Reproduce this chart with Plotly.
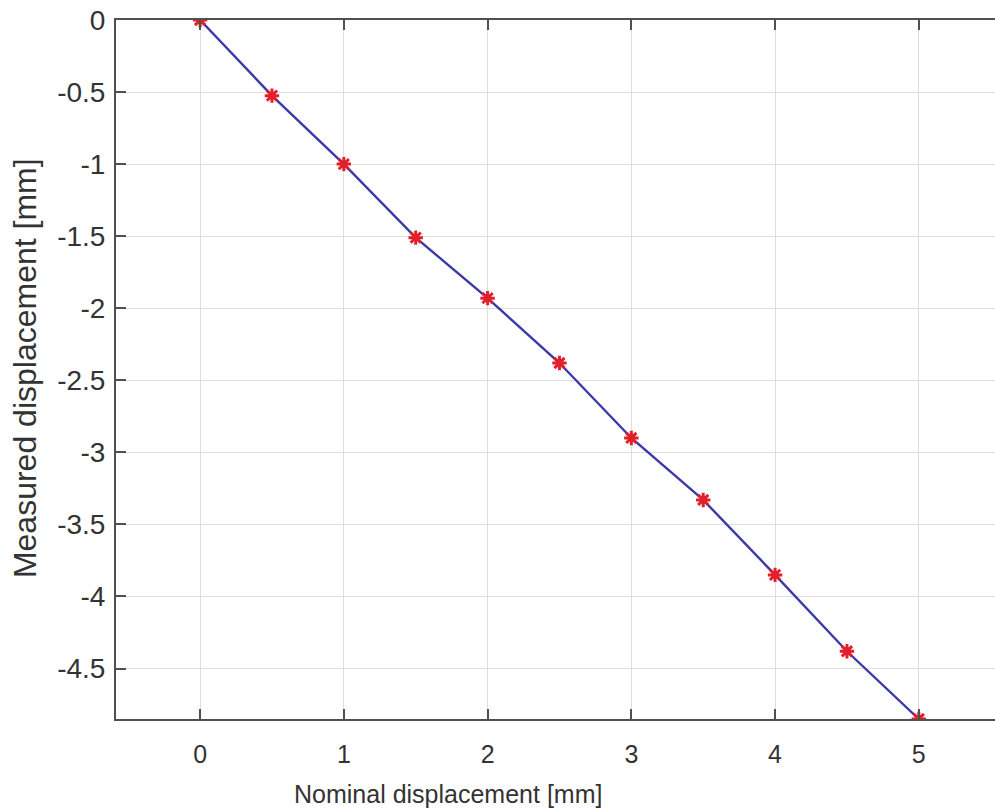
import plotly.graph_objects as go

nominal = [0, 0.5, 1, 1.5, 2, 2.5, 3, 3.5, 4, 4.5, 5]
measured = [0, -0.525, -1.0, -1.51, -1.93, -2.38, -2.90, -3.33, -3.85, -4.38, -4.85]

x_ticks = [0, 1, 2, 3, 4, 5]
x_tick_text = ["0", "1", "2", "3", "4", "5"]
y_ticks = [0, -0.5, -1, -1.5, -2, -2.5, -3, -3.5, -4, -4.5]
y_tick_text = ["0", "-0.5", "-1", "-1.5", "-2", "-2.5", "-3", "-3.5", "-4", "-4.5"]

x_title = "Nominal displacement [mm]"
y_title = "Measured displacement [mm]"

font_family = "Liberation Sans, Arial, sans-serif"
txt = "#333333"
axis_col = "#505050"

fig = go.Figure()
fig.add_trace(go.Scatter(
    x=nominal, y=measured, mode="lines",
    line=dict(color="#3a3aaa", width=2.4),
    showlegend=False, hoverinfo="skip"))
fig.add_trace(go.Scatter(
    x=nominal, y=measured, mode="markers",
    marker=dict(symbol="asterisk-open", size=12, color="#e0202a",
                line=dict(color="#e0202a", width=3)),
    showlegend=False))

fig.update_layout(
    width=995, height=812,
    margin=dict(l=116, r=0, t=20, b=93),
    paper_bgcolor="white", plot_bgcolor="white",
    font=dict(family=font_family, size=25, color=txt),
    xaxis=dict(
        range=[-0.585, 5.53], tickvals=x_ticks, ticktext=x_tick_text,
        showgrid=True, gridcolor="#dedede", gridwidth=1,
        zeroline=False, showline=True, linecolor=axis_col, linewidth=2,
        mirror="ticks", ticks="inside", ticklen=10, tickwidth=2, tickcolor=axis_col,
        ticklabelstandoff=12, ticklabeloverflow="allow",
        tickfont=dict(size=25, color=txt),
    ),
    yaxis=dict(
        range=[-4.85, 0], tickvals=y_ticks, ticktext=y_tick_text,
        showgrid=True, gridcolor="#dedede", gridwidth=1,
        zeroline=False, showline=True, linecolor=axis_col, linewidth=2,
        mirror=False, ticks="inside", ticklen=10, tickwidth=2, tickcolor=axis_col,
        ticklabelstandoff=3, ticklabeloverflow="allow",
        tickfont=dict(size=28, color=txt),
    ),
    annotations=[
        dict(text=x_title, xref="paper", yref="paper", x=0.3777, y=0,
             xanchor="center", yanchor="middle", yshift=-75, showarrow=False,
             font=dict(size=25, color=txt)),
        dict(text=y_title, xref="paper", yref="paper", x=0, y=0.502,
             xanchor="center", yanchor="middle", xshift=-91, textangle=-90,
             showarrow=False, font=dict(size=32, color=txt)),
    ],
)

post = ("document.body.style.margin='0';"
        "document.body.style.padding='0';"
        "document.documentElement.style.overflow='hidden';")
fig.write_html("out.html", post_script=post,
               config={"displayModeBar": False, "staticPlot": True})
